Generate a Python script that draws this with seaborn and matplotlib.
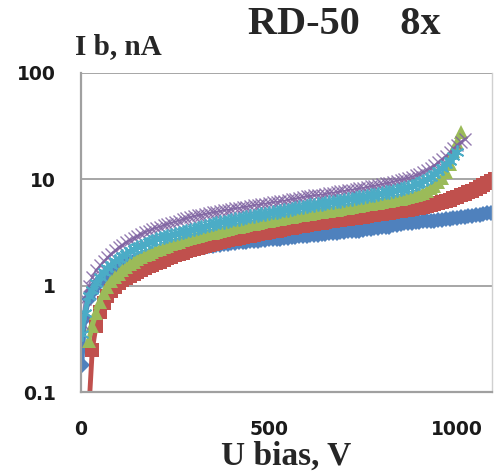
import matplotlib
matplotlib.use("Agg")
import matplotlib.pyplot as plt
import seaborn as sns
import pandas as pd
from matplotlib.ticker import FixedLocator, FixedFormatter, NullLocator

# ---------------- data ----------------
u_bias = [2,
          10, 20, 30, 40, 50, 60, 70, 80, 90, 100,
          110, 120, 130, 140, 150, 160, 170, 180, 190, 200,
          210, 220, 230, 240, 250, 260, 270, 280, 290, 300,
          310, 320, 330, 340, 350, 360, 370, 380, 390, 400,
          410, 420, 430, 440, 450, 460, 470, 480, 490, 500,
          510, 520, 530, 540, 550, 560, 570, 580, 590, 600,
          610, 620, 630, 640, 650, 660, 670, 680, 690, 700,
          710, 720, 730, 740, 750, 760, 770, 780, 790, 800,
          810, 820, 830, 840, 850, 860, 870, 880, 890, 900,
          910, 920, 930, 940, 950, 960, 970, 980, 990, 1000,
          1010, 1020, 1030, 1040, 1050, 1060, 1070, 1080, 1090, 1100]

i_blue = [0.18,
          0.5, 0.75, 0.88, 1.0, 1.1, 1.2, 1.28, 1.35, 1.43, 1.5,
          1.55, 1.6, 1.65, 1.7, 1.75, 1.8, 1.84, 1.88, 1.92, 1.95,
          1.99, 2.02, 2.05, 2.08, 2.11, 2.14, 2.17, 2.2, 2.22, 2.25,
          2.28, 2.3, 2.33, 2.35, 2.38, 2.4, 2.43, 2.45, 2.48, 2.5,
          2.53, 2.55, 2.58, 2.6, 2.61, 2.62, 2.64, 2.66, 2.7, 2.72,
          2.73, 2.75, 2.76, 2.78, 2.82, 2.85, 2.88, 2.9, 2.92, 2.95,
          2.98, 3.0, 3.02, 3.05, 3.08, 3.1, 3.12, 3.15, 3.18, 3.2,
          3.24, 3.28, 3.29, 3.3, 3.35, 3.4, 3.42, 3.45, 3.5, 3.55,
          3.55, 3.6, 3.68, 3.75, 3.8, 3.85, 3.88, 3.9, 3.95, 4.0,
          4.02, 4.05, 4.08, 4.1, 4.12, 4.15, 4.2, 4.25, 4.3, 4.35,
          4.4, 4.45, 4.48, 4.5, 4.58, 4.65, 4.72, 4.8, 4.85, 4.9]

i_red = [None,
         None, 0.06, 0.25, 0.42, 0.56, 0.68, 0.8, 0.9, 0.98, 1.05,
         1.12, 1.18, 1.24, 1.3, 1.35, 1.4, 1.46, 1.52, 1.57, 1.62,
         1.68, 1.75, 1.82, 1.88, 1.94, 2.0, 2.05, 2.1, 2.15, 2.2,
         2.25, 2.3, 2.36, 2.42, 2.47, 2.52, 2.57, 2.62, 2.67, 2.72,
         2.77, 2.82, 2.87, 2.92, 2.96, 3.0, 3.05, 3.1, 3.15, 3.2,
         3.25, 3.3, 3.35, 3.4, 3.45, 3.5, 3.56, 3.62, 3.67, 3.72,
         3.77, 3.82, 3.87, 3.92, 3.97, 4.02, 4.07, 4.12, 4.17, 4.22,
         4.27, 4.32, 4.37, 4.42, 4.47, 4.52, 4.57, 4.62, 4.67, 4.72,
         4.78, 4.85, 4.92, 5.0, 5.05, 5.1, 5.18, 5.25, 5.32, 5.4,
         5.5, 5.6, 5.72, 5.85, 5.97, 6.1, 6.27, 6.45, 6.65, 6.85,
         7.07, 7.3, 7.57, 7.85, 8.17, 8.5, 8.85, 9.2, 9.6, 10.0]

i_green = [None,
           None, 0.3, 0.42, 0.55, 0.7, 0.85, 0.98, 1.1, 1.2, 1.3,
           1.4, 1.5, 1.59, 1.68, 1.77, 1.85, 1.93, 2.0, 2.08, 2.15,
           2.22, 2.3, 2.38, 2.45, 2.52, 2.6, 2.66, 2.72, 2.78, 2.85,
           2.92, 2.98, 3.04, 3.1, 3.16, 3.22, 3.28, 3.35, 3.42, 3.48,
           3.54, 3.6, 3.66, 3.72, 3.78, 3.84, 3.9, 3.96, 4.02, 4.08,
           4.14, 4.2, 4.26, 4.32, 4.38, 4.45, 4.52, 4.58, 4.64, 4.7,
           4.76, 4.82, 4.88, 4.95, 5.02, 5.08, 5.14, 5.2, 5.28, 5.35,
           5.42, 5.5, 5.58, 5.65, 5.72, 5.8, 5.88, 5.95, 6.02, 6.1,
           6.2, 6.3, 6.4, 6.5, 6.6, 6.7, 6.82, 6.95, 7.1, 7.25,
           7.5, 7.8, 8.2, 8.7, 9.4, 10.3, 11.8, 14.0, 18.5, 22.0,
           28.0, None, None, None, None, None, None, None, None, None]

i_purple = [0.45,
            0.75, 1.0, 1.2, 1.4, 1.55, 1.7, 1.85, 2.0, 2.15, 2.3,
            2.42, 2.55, 2.68, 2.8, 2.92, 3.05, 3.18, 3.3, 3.4, 3.5,
            3.6, 3.7, 3.8, 3.9, 4.0, 4.1, 4.2, 4.3, 4.4, 4.5,
            4.58, 4.65, 4.72, 4.8, 4.88, 4.95, 5.02, 5.1, 5.18, 5.25,
            5.32, 5.4, 5.48, 5.55, 5.62, 5.7, 5.78, 5.85, 5.92, 6.0,
            6.08, 6.15, 6.22, 6.3, 6.4, 6.5, 6.6, 6.7, 6.8, 6.9,
            6.98, 7.05, 7.12, 7.2, 7.3, 7.4, 7.5, 7.6, 7.7, 7.8,
            7.9, 8.0, 8.1, 8.2, 8.32, 8.45, 8.58, 8.7, 8.85, 9.0,
            9.15, 9.3, 9.5, 9.7, 9.9, 10.1, 10.35, 10.6, 10.9, 11.2,
            11.7, 12.2, 12.9, 13.6, 14.5, 15.5, 16.7, 18.0, 19.5, 21.0,
            22.5, 24.0, None, None, None, None, None, None, None, None]

i_cyan = [0.35,
          0.55, 0.8, 0.92, 1.05, 1.2, 1.35, 1.47, 1.58, 1.69, 1.8,
          1.9, 2.0, 2.1, 2.2, 2.29, 2.38, 2.47, 2.55, 2.64, 2.72,
          2.8, 2.88, 2.95, 3.02, 3.09, 3.16, 3.23, 3.3, 3.37, 3.44,
          3.51, 3.58, 3.65, 3.72, 3.79, 3.86, 3.93, 4.0, 4.07, 4.14,
          4.21, 4.28, 4.35, 4.42, 4.49, 4.56, 4.63, 4.7, 4.77, 4.84,
          4.91, 4.98, 5.05, 5.12, 5.2, 5.28, 5.36, 5.44, 5.52, 5.6,
          5.68, 5.76, 5.84, 5.92, 6.0, 6.08, 6.16, 6.24, 6.32, 6.4,
          6.49, 6.58, 6.67, 6.76, 6.85, 6.95, 7.05, 7.15, 7.27, 7.4,
          7.52, 7.65, 7.8, 7.95, 8.12, 8.3, 8.5, 8.7, 8.95, 9.2,
          9.6, 10.0, 10.6, 11.2, 12.0, 12.8, 13.9, 15.0, 16.5, 18.0,
          None, None, None, None, None, None, None, None, None, None]

y_ticks = [0.1, 1, 10, 100]
y_tick_labels = ["0.1", "1", "10", "100"]
x_ticks = [0, 500, 1000]
x_tick_labels = ["0", "500", "1000"]

# ---------------- figure ----------------
sns.set_style("white")
plt.rcParams['font.family'] = ['DejaVu Sans']
serif = ["Liberation Serif", "DejaVu Serif"]

fig = plt.figure(figsize=(4.94, 4.72), dpi=100)
ax = fig.add_axes([81 / 494, 80 / 472, 411 / 494, 319 / 472])

df = pd.DataFrame({"U": u_bias, "blue": i_blue, "red": i_red, "green": i_green,
                   "purple": i_purple, "cyan": i_cyan}).astype(float)

styles = [
    ("blue", "#4F81BD", 3.5, 1.0, dict(marker="D", markersize=8.5, markeredgewidth=0)),
    ("red", "#C0504D", 3.5, 1.0, dict(marker="s", markersize=9.5, markeredgewidth=0)),
    ("green", "#9BBB59", 3.5, 1.0, dict(marker="^", markersize=10, markeredgewidth=0)),
    ("purple", "#8064A2", 1.2, 0.85, dict(marker="x", markersize=8, markeredgewidth=1.0)),
    ("cyan", "#4BACC6", 3.5, 1.0, dict(marker=(6, 2, 0), markersize=10, markeredgewidth=1.3)),
]
for name, col, lw, alpha, mk in styles:
    sub = df[["U", name]].dropna()
    sns.lineplot(data=sub, x="U", y=name, color=col, linewidth=lw, alpha=alpha,
                 markeredgecolor=col, ax=ax, **mk)

ax.set_yscale("log")
ax.set_ylim(0.1, 100)
ax.set_xlim(0, 1093)

ax.yaxis.set_major_locator(FixedLocator(y_ticks))
ax.yaxis.set_major_formatter(FixedFormatter(y_tick_labels))
ax.yaxis.set_minor_locator(NullLocator())
ax.xaxis.set_major_locator(FixedLocator(x_ticks))
ax.xaxis.set_major_formatter(FixedFormatter(x_tick_labels))

ax.grid(False)
ax.yaxis.grid(True, color="#A6A6A6", linewidth=1.4)
ax.set_axisbelow(True)

grey = "#A0A0A0"
for s in ["left", "bottom"]:
    ax.spines[s].set_color(grey)
    ax.spines[s].set_linewidth(1.6)
ax.spines["top"].set_visible(False)
ax.spines["right"].set_color("#D0D0D0")
ax.spines["right"].set_linewidth(1.0)

ax.tick_params(axis="x", direction="out", length=7, width=1.4, color=grey,
               pad=13, labelsize=13.5)
ax.tick_params(axis="y", direction="out", length=8, width=1.4, color=grey,
               pad=10, labelsize=13.5)
for lab in ax.get_xticklabels() + ax.get_yticklabels():
    lab.set_fontweight("bold")
    lab.set_color("#1a1a1a")

ax.set_ylabel("")
ax.set_xlabel("")

fig.text(286 / 494, 1 - 456 / 472, "U bias, V", fontsize=24, fontweight="bold",
         family=serif, ha="center", va="center")
fig.text(75 / 494, 1 - 47 / 472, "I b, nA", fontsize=21, fontweight="bold",
         family=serif, ha="left", va="center")
fig.text(344 / 494, 1 - 25 / 472, "RD-50    8x", fontsize=29, fontweight="bold",
         family=serif, ha="center", va="center")

fig.savefig("out.png", dpi=100)
